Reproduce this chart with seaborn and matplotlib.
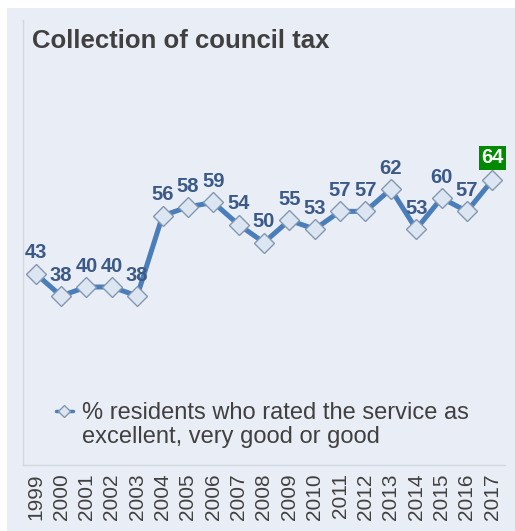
import pandas as pd
import matplotlib
matplotlib.use('Agg')
import matplotlib.pyplot as plt
from matplotlib.patches import Rectangle
from matplotlib.lines import Line2D
import seaborn as sns

# ========================================
# Данные
# ========================================
years = ['1999', '2000', '2001', '2002', '2003', '2004', '2005', '2006', '2007', '2008',
         '2009', '2010', '2011', '2012', '2013', '2014', '2015', '2016', '2017']
values = [43, 38, 40, 40, 38, 56, 58, 59, 54, 50, 55, 53, 57, 57, 62, 53, 60, 57, 64]
legend_lines = ['% residents who rated the service as', 'excellent, very good or good']
title = 'Collection of council tax'

# Цвета
BG = '#E9EDF5'
LINE = '#4A7EBB'
MARKER_FACE = '#DCE6F2'
MARKER_EDGE = '#8497B0'
LABEL = '#3B5A88'
TEXT = '#404040'
SPINE = '#D3D7DE'
HIGHLIGHT = '#008A00'

W, H = 515, 531

sns.set_theme(style='white')
plt.rcParams['font.family'] = ['Liberation Sans', 'DejaVu Sans']

df = pd.DataFrame({'year': years, 'value': values})

fig = plt.figure(figsize=(W / 100, H / 100), dpi=100)
fig.patch.set_facecolor('white')
fig.patches.append(Rectangle((7 / W, 0), 1, (H - 8) / H, transform=fig.transFigure,
                             facecolor=BG, edgecolor='none', zorder=-1))

ax = fig.add_axes([23 / W, 66 / H, 482 / W, 445 / H])
ax.set_facecolor(BG)

sns.lineplot(data=df, x='year', y='value', ax=ax, color=LINE, linewidth=3.6,
             marker='D', markersize=10, markerfacecolor=MARKER_FACE,
             markeredgecolor=MARKER_EDGE, markeredgewidth=1.0, sort=False)

ax.set_ylim(0, 100)
ax.set_xlim(-0.5, len(years) - 0.5)
ax.set_xlabel('')
ax.set_ylabel('')
ax.set_yticks([])
ax.tick_params(axis='x', labelrotation=90, labelsize=15, colors=TEXT, length=0, pad=6)
for s in ['top', 'right']:
    ax.spines[s].set_visible(False)
for s in ['left', 'bottom']:
    ax.spines[s].set_color(SPINE)
    ax.spines[s].set_linewidth(1.0)

# Подписи значений
for i, v in enumerate(values):
    if i == len(values) - 1:
        ax.annotate(str(v), (i, v), xytext=(0, 16), textcoords='offset points',
                    ha='center', va='center', fontsize=14.5, fontweight='bold', color='white',
                    bbox=dict(boxstyle='square,pad=0.12', facecolor=HIGHLIGHT, edgecolor='none'))
    else:
        ax.annotate(str(v), (i, v), xytext=(0, 15), textcoords='offset points',
                    ha='center', va='center', fontsize=14.5, fontweight='bold', color=LABEL)

# Легенда (маркер на уровне первой строки)
handle = Line2D([], [], color=LINE, linewidth=2.5, marker='D', markersize=6.5,
                markerfacecolor=MARKER_FACE, markeredgecolor=MARKER_EDGE, markeredgewidth=1.0)
leg = fig.legend([handle], [legend_lines[0]], loc='center left',
                 bbox_to_anchor=(56 / W, 1 - 413 / H), bbox_transform=fig.transFigure,
                 frameon=False, fontsize=17, handlelength=0.7, handletextpad=0.4,
                 borderpad=0, borderaxespad=0, labelcolor=TEXT)
fig.canvas.draw()
tb = leg.get_texts()[0].get_window_extent()
x0 = fig.transFigure.inverted().transform((tb.x0, tb.y0))[0]
fig.text(x0, 1 - 437 / H, legend_lines[1], fontsize=17, color=TEXT, ha='left', va='center')

fig.text(32 / W, 1 - 41 / H, title, fontsize=18.5, fontweight='bold', color=TEXT,
         ha='left', va='center')

fig.savefig('out.png', dpi=100)
